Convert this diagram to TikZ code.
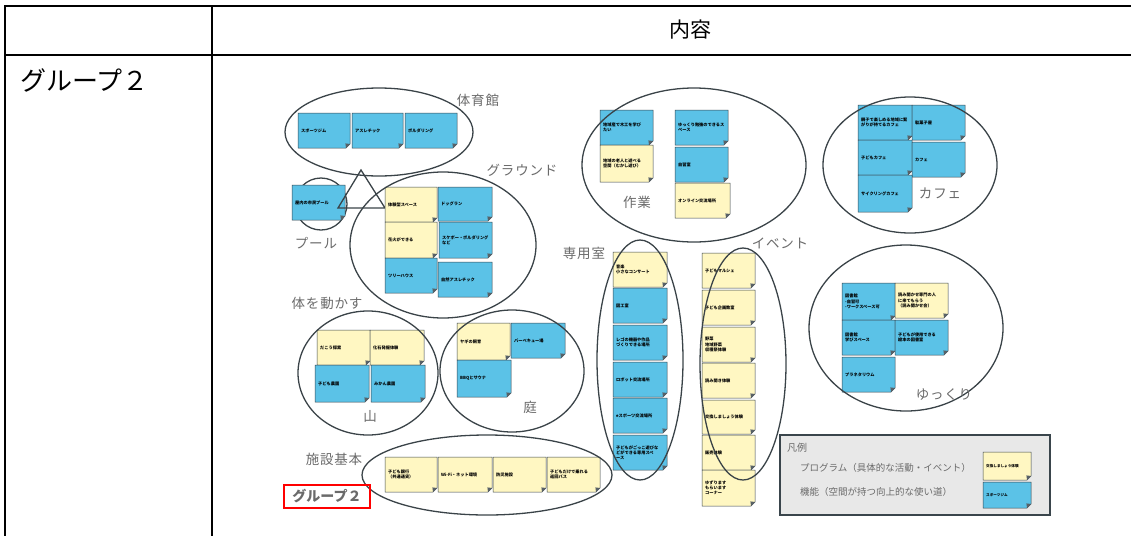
\documentclass[tikz,border=0pt]{standalone}
\usepackage{fontspec}
\setmainfont{Noto Sans CJK JP}
\newfontfamily\lblfont{Noto Sans CJK JP}[LetterSpace=6]
\definecolor{blueN}{HTML}{5BC2E7}
\definecolor{yelN}{HTML}{FFF7C2}
\definecolor{edgeN}{HTML}{3A454C}
\definecolor{lblc}{HTML}{6A6A6A}
\definecolor{ringc}{HTML}{3A4348}
\definecolor{legfill}{HTML}{E8E8E8}
\tikzset{
  notebody/.style={draw=edgeN, line width=0.5pt},
  foldc/.style={fill=edgeN!85},
  notetext/.style={anchor=west, align=left, inner sep=0pt, text=black,
    font=\fontsize{4.2}{5.2}\selectfont\bfseries},
  ring/.style={draw=ringc, line width=1.3pt},
  lbl/.style={text=lblc, inner sep=0pt, font=\lblfont\fontsize{13.5}{15}\selectfont},
  tabline/.style={line width=2pt, black},
}
\newcommand{\stick}[7]{%
  \filldraw[notebody,fill=#6] (#2,#3) -- ++(#4,0) -- ++(0,#5-4) -- ++(-4,4) -- ++(-#4+4,0) -- cycle;
  \fill[foldc] (#2+#4-4,#3+#5) -- (#2+#4,#3+#5-4) -- (#2+#4-4.6,#3+#5-4.6) -- cycle;
  \node[notetext] (#1) at (#2+3,#3+#5/2) {#7};
}
\begin{document}
\begin{tikzpicture}[x=1pt,y=-1pt]
\useasboundingbox (0,0) rectangle (1131,536);
% table
\draw[tabline] (4,6) -- (1131,6);
\draw[tabline] (4,55) -- (1131,55);
\draw[tabline] (5,5) -- (5,536);
\draw[tabline] (212,5) -- (212,536);
\node[font=\fontsize{21}{23}\selectfont, inner sep=0pt] (head) at (690,30) {内容};
\node[font=\fontsize{26}{28}\selectfont, inner sep=0pt, anchor=west] (grp) at (20,80) {グループ２};

% pool circle (behind note)
\draw[ring] (321,204) circle [radius=26pt];
\stick{p1}{292}{185}{53}{35}{blueN}{屋内の市民プール}
\draw[ring] (361,170) -- (338,208) -- (385,208) -- cycle;

% gym
\stick{a1}{298}{113}{52}{35}{blueN}{スポーツジム}
\stick{a2}{352}{113}{51}{35}{blueN}{アスレチック}
\stick{a3}{405}{113}{52}{35}{blueN}{ボルダリング}
\draw[ring] (379,132) ellipse [x radius=94pt, y radius=44pt];

% ground
\stick{g1}{385}{187}{52}{35}{yelN}{体験型スペース}
\stick{g2}{438}{187}{54}{34}{blueN}{ドッグラン}
\stick{g3}{385}{222}{52}{36}{yelN}{花火ができる}
\stick{g4}{439}{222}{53}{36}{blueN}{スケボー・ボルダリング\\など}
\stick{g5}{385}{258}{52}{35}{blueN}{ツリーハウス}
\stick{g6}{438}{262}{54}{35}{blueN}{自然アスレチック}
\draw[ring] (443,245) ellipse [x radius=93pt, y radius=73pt];

% mountain
\stick{m1}{317}{330}{53}{35}{yelN}{だこう探索}
\stick{m2}{370}{330}{54}{35}{yelN}{化石発掘体験}
\stick{m3}{315}{365}{54}{37}{blueN}{子ども農園}
\stick{m4}{371}{365}{54}{37}{blueN}{みかん農園}
\draw[ring] (368,373) ellipse [x radius=70pt, y radius=62pt];

% garden
\stick{n1}{457}{323}{53}{37}{yelN}{ヤギの飼育}
\stick{n2}{511}{323}{54}{35}{blueN}{バーベキュー場}
\stick{n3}{457}{360}{54}{37}{blueN}{BBQとサウナ}
\draw[ring] (512,371) ellipse [x radius=72pt, y radius=61pt];

% basic facilities
\stick{k1}{385}{457}{52}{35}{yelN}{子ども銀行\\（共通通貨）}
\stick{k2}{438}{457}{54}{35}{yelN}{Wi-Fi・ネット環境}
\stick{k3}{493}{457}{53}{35}{yelN}{防災施設}
\stick{k4}{547}{457}{53}{35}{yelN}{子どもだけで乗れる\\巡回バス}
\draw[ring] (487,475) ellipse [x radius=125pt, y radius=40pt];

% work
\stick{s1}{600}{110}{53}{35}{blueN}{地域産で木工を学び\\たい}
\stick{s2}{600}{145}{53}{37}{yelN}{地域の老人と遊べる\\空間（むかし遊び）}
\stick{s3}{675}{110}{53}{35}{blueN}{ゆっくり勉強のできるス\\ペース}
\stick{s4}{675}{147}{53}{35}{blueN}{自習室}
\stick{s5}{675}{183}{55}{35}{yelN}{オンライン交流場所}
\draw[ring] (694,165) ellipse [x radius=112pt, y radius=77pt];

% cafe
\stick{c1}{858}{105}{54}{35}{blueN}{親子で楽しめる地域に繋\\がりが持てるカフェ}
\stick{c2}{912}{105}{53}{35}{blueN}{駄菓子屋}
\stick{c3}{858}{140}{54}{35}{blueN}{子どもカフェ}
\stick{c4}{912}{142}{53}{35}{blueN}{カフェ}
\stick{c5}{858}{175}{54}{37}{blueN}{サイクリングカフェ}
\draw[ring] (910,165) ellipse [x radius=87pt, y radius=68pt];

% special rooms
\stick{r1}{613}{252}{54}{35}{yelN}{音楽\\小さなコンサート}
\stick{r2}{613}{288}{54}{35}{blueN}{図工室}
\stick{r3}{613}{325}{54}{35}{blueN}{レゴの機器や作品\\づくりできる場所}
\stick{r4}{613}{362}{54}{35}{blueN}{ロボット交流場所}
\stick{r5}{613}{398}{54}{35}{blueN}{eスポーツ交流場所}
\stick{r6}{613}{435}{54}{35}{blueN}{子どもがごっこ遊びな\\どができる専用スペ\\ース}
\draw[ring] (640,360) ellipse [x radius=43pt, y radius=120pt];

% events
\stick{e1}{702}{253}{53}{35}{yelN}{子どもマルシェ}
\stick{e2}{702}{290}{53}{35}{yelN}{子ども企画教室}
\stick{e3}{702}{327}{53}{35}{yelN}{野菜\\地域野菜\\収穫祭体験}
\stick{e4}{702}{363}{53}{35}{yelN}{読み聞き体験}
\stick{e5}{702}{400}{53}{34}{yelN}{交換しましょう体験}
\stick{e6}{702}{435}{53}{35}{yelN}{販売体験}
\stick{e7}{702}{470}{53}{36}{yelN}{ゆずります\\もらいます\\コーナー}
\draw[ring] (743,364) ellipse [x radius=43pt, y radius=116pt];

% relax
\stick{y1}{842}{283}{53}{37}{blueN}{図書館\\-自習可\\-ワークスペース可}
\stick{y2}{895}{283}{53}{35}{yelN}{読み聞かせ専門の人\\に来てもらう\\（読み聞かせ会）}
\stick{y3}{842}{320}{53}{35}{blueN}{図書館\\学びスペース}
\stick{y4}{895}{320}{53}{35}{blueN}{子どもが使用できる\\絵本の図書室}
\stick{y5}{842}{357}{53}{35}{blueN}{プラネタリウム}
\draw[ring] (906,328) ellipse [x radius=97pt, y radius=83pt];

% labels
\node[lbl] (lgym) at (478,100) {体育館};
\node[lbl] (lground) at (522,170) {グラウンド};
\node[lbl] (lpool) at (316,243) {プール};
\node[lbl] (lmove) at (327,303) {体を動かす};
\node[lbl] (lmt) at (370,416) {山};
\node[lbl] (lgd) at (530,407) {庭};
\node[lbl] (lbase) at (334,459) {施設基本};
\node[lbl] (lwork) at (637,202) {作業};
\node[lbl] (lcafe) at (940,193) {カフェ};
\node[lbl] (lroom) at (584,253) {専用室};
\node[lbl] (levent) at (780,243) {イベント};
\node[lbl] (lrelax) at (944,395) {ゆっくり};

% red group box
\draw[red, line width=1.6pt] (284,485) rectangle (370,508);
\node[text=lblc, font=\fontsize{14}{15}\selectfont\bfseries, inner sep=0pt] (g2lbl) at (327,496.5) {グループ２};

% legend
\draw[fill=legfill, draw=edgeN, line width=1.8pt] (780,435) rectangle (1050,515);
\node[text=lblc, font=\fontsize{10}{12}\selectfont, inner sep=0pt, anchor=west] (leghead) at (787,448) {凡例};
\node[text=lblc, font=\fontsize{9.5}{11}\selectfont, inner sep=0pt, anchor=west] (legprog) at (800,468) {プログラム（具体的な活動・イベント）};
\node[text=lblc, font=\fontsize{9.5}{11}\selectfont, inner sep=0pt, anchor=west] (legfunc) at (800,492) {機能（空間が持つ向上的な使い道）};
\stick{L1}{983}{452}{48}{28}{yelN}{\fontsize{3.6}{4}\selectfont 交換しましょう体験}
\stick{L2}{983}{482}{48}{26}{blueN}{\fontsize{3.6}{4}\selectfont スポーツジム}
\end{tikzpicture}
\end{document}
